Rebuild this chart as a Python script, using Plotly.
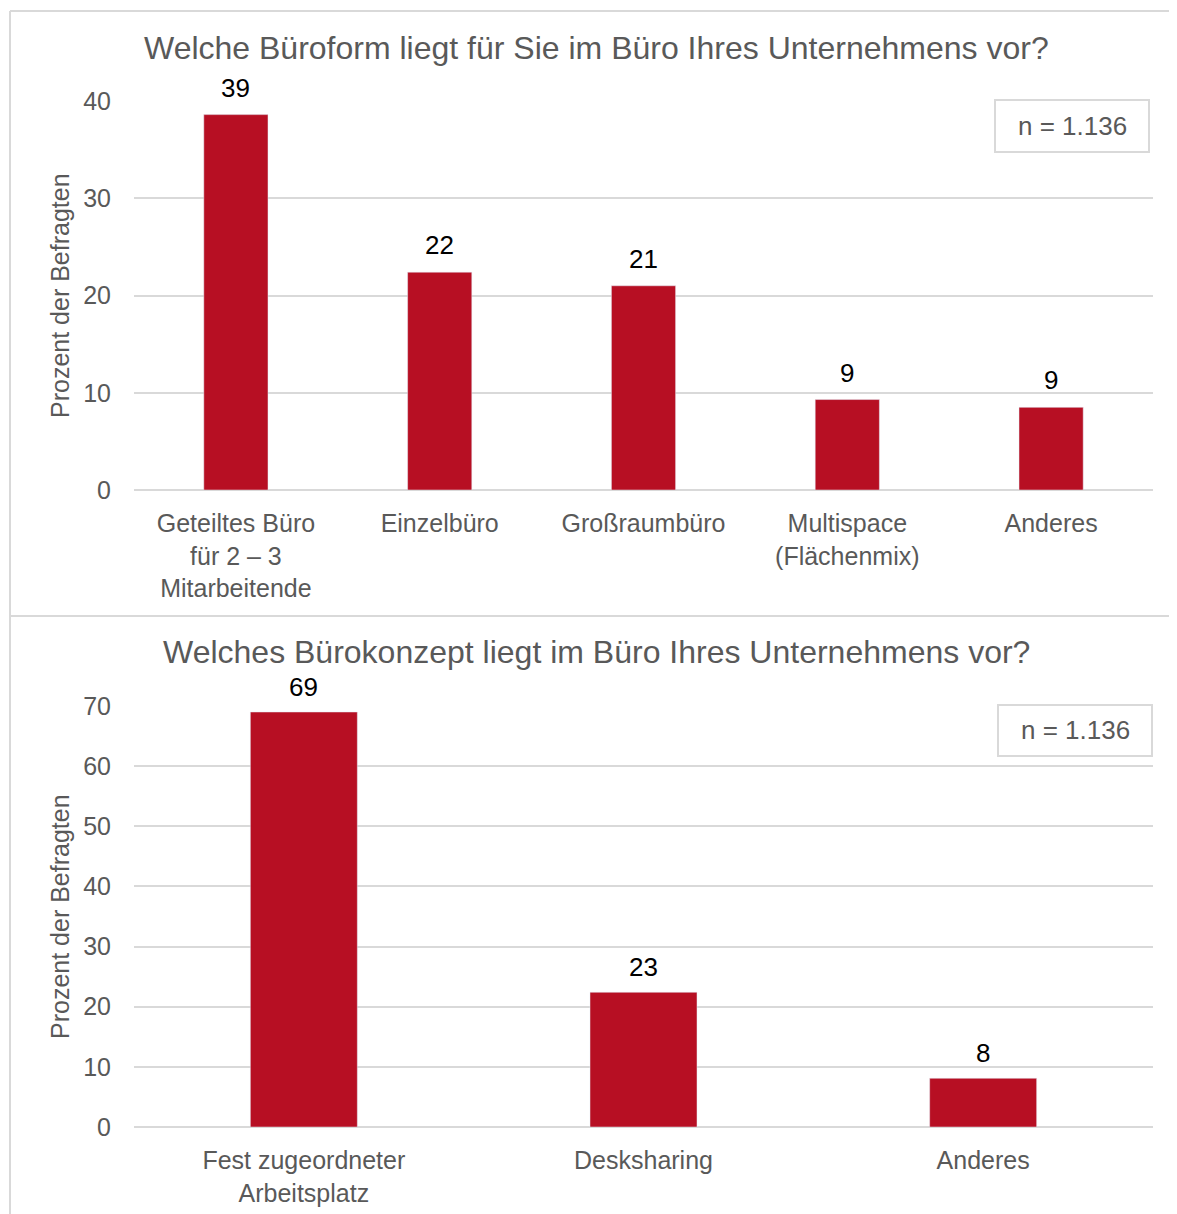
import plotly.graph_objects as go

# ---- data ----
top_title = "Welche Büroform liegt für Sie im Büro Ihres Unternehmens vor?"
top_categories = ["Geteiltes Büro<br>für 2 – 3<br>Mitarbeitende", "Einzelbüro", "Großraumbüro",
                  "Multispace<br>(Flächenmix)", "Anderes"]
top_values = [38.6, 22.4, 21.0, 9.3, 8.5]
top_labels = ["39", "22", "21", "9", "9"]
top_ticks = [0, 10, 20, 30, 40]

bottom_title = "Welches Bürokonzept liegt im Büro Ihres Unternehmens vor?"
bottom_categories = ["Fest zugeordneter<br>Arbeitsplatz", "Desksharing", "Anderes"]
bottom_values = [69.0, 22.4, 8.1]
bottom_labels = ["69", "23", "8"]
bottom_ticks = [0, 10, 20, 30, 40, 50, 60, 70]

n_text = "n = 1.136"
y_title = "Prozent der Befragten"

# ---- layout helpers (page body has an 8px margin) ----
OFF = 8
W, H = 1177 - OFF, 1214 - OFF
def px(x):
    return (x - OFF) / W
def py(y):
    return (H - (y - OFF)) / H

FONT = "Liberation Sans, Arial, sans-serif"
BAR = "#B70F23"
GRID = "#D9D9D9"
TXT = "#595959"

fig = go.Figure()
fig.add_trace(go.Bar(x=top_categories, y=top_values, marker_color=BAR,
                     xaxis="x", yaxis="y", showlegend=False, hoverinfo="skip"))
fig.add_trace(go.Bar(x=bottom_categories, y=bottom_values, marker_color=BAR,
                     xaxis="x2", yaxis="y2", showlegend=False, hoverinfo="skip"))

xdom = [px(134), px(1153)]
xfont = dict(size=25, color=TXT, family=FONT)
yfont = dict(size=25, color=TXT, family=FONT)

fig.update_layout(
    width=W, height=H, margin=dict(l=0, r=0, t=0, b=0, autoexpand=False),
    paper_bgcolor="white", plot_bgcolor="white",
    font=dict(family=FONT, color=TXT),
    bargap=0.685,
    xaxis=dict(domain=xdom, anchor="y", showgrid=False, showline=False, ticks="", automargin=False,
               ticklabelstandoff=16, tickfont=xfont),
    yaxis=dict(domain=[py(490), py(101)], anchor="x", range=[0, 40], tickvals=top_ticks, automargin=False,
               showgrid=True, gridcolor=GRID, gridwidth=2, zeroline=True, zerolinecolor=GRID, zerolinewidth=2,
               showline=False, ticklabelstandoff=22, tickfont=yfont),
    xaxis2=dict(domain=xdom, anchor="y2", showgrid=False, showline=False, ticks="", automargin=False,
                ticklabelstandoff=16, tickfont=xfont),
    yaxis2=dict(domain=[py(1127), py(706)], anchor="x2", range=[0, 70], tickvals=bottom_ticks, automargin=False,
                showgrid=True, gridcolor=GRID, gridwidth=2, zeroline=True, zerolinecolor=GRID, zerolinewidth=2,
                showline=False, ticklabelstandoff=22, tickfont=yfont),
)

annotations = [
    dict(text=top_title, x=px(596), y=py(48), xref="paper", yref="paper", showarrow=False,
         font=dict(size=32, color=TXT, family=FONT), xanchor="center", yanchor="middle"),
    dict(text=bottom_title, x=px(596), y=py(652), xref="paper", yref="paper", showarrow=False,
         font=dict(size=32, color=TXT, family=FONT), xanchor="center", yanchor="middle"),
    dict(text=y_title, x=px(60), y=py(296), xref="paper", yref="paper", showarrow=False, textangle=-90,
         font=dict(size=25, color=TXT, family=FONT), xanchor="center", yanchor="middle"),
    dict(text=y_title, x=px(60), y=py(917), xref="paper", yref="paper", showarrow=False, textangle=-90,
         font=dict(size=25, color=TXT, family=FONT), xanchor="center", yanchor="middle"),
    dict(text=n_text, x=px(1072), y=py(126), xref="paper", yref="paper", showarrow=False,
         font=dict(size=26, color=TXT, family=FONT), xanchor="center", yanchor="middle"),
    dict(text=n_text, x=px(1075), y=py(730), xref="paper", yref="paper", showarrow=False,
         font=dict(size=26, color=TXT, family=FONT), xanchor="center", yanchor="middle"),
]
# value labels above bars, placed through the data axes
for cats, vals, labs, xr, yr, shift in [(top_categories, top_values, top_labels, "x", "y", 10),
                                         (bottom_categories, bottom_values, bottom_labels, "x2", "y2", 8)]:
    for c, v, t in zip(cats, vals, labs):
        annotations.append(dict(text=t, x=c, y=v, xref=xr, yref=yr, showarrow=False,
                                xanchor="center", yanchor="bottom", yshift=shift,
                                font=dict(size=26, color="#000000", family=FONT)))
fig.update_layout(annotations=annotations)

shapes = [
    # n boxes
    dict(type="rect", xref="paper", yref="paper", x0=px(995), x1=px(1149), y0=py(152), y1=py(100),
         line=dict(color=GRID, width=2), fillcolor="white", layer="above"),
    dict(type="rect", xref="paper", yref="paper", x0=px(998), x1=px(1152), y0=py(756), y1=py(705),
         line=dict(color=GRID, width=2), fillcolor="white", layer="above"),
    # panel borders
    dict(type="line", xref="paper", yref="paper", x0=px(10), x1=px(1177), y0=py(11), y1=py(11),
         line=dict(color=GRID, width=2)),
    dict(type="line", xref="paper", yref="paper", x0=px(10), x1=px(10), y0=py(11), y1=py(1214),
         line=dict(color=GRID, width=2)),
    dict(type="line", xref="paper", yref="paper", x0=px(10), x1=px(1177), y0=py(616), y1=py(616),
         line=dict(color=GRID, width=2)),
]
fig.update_layout(shapes=shapes)

fig.write_html("out.html")
